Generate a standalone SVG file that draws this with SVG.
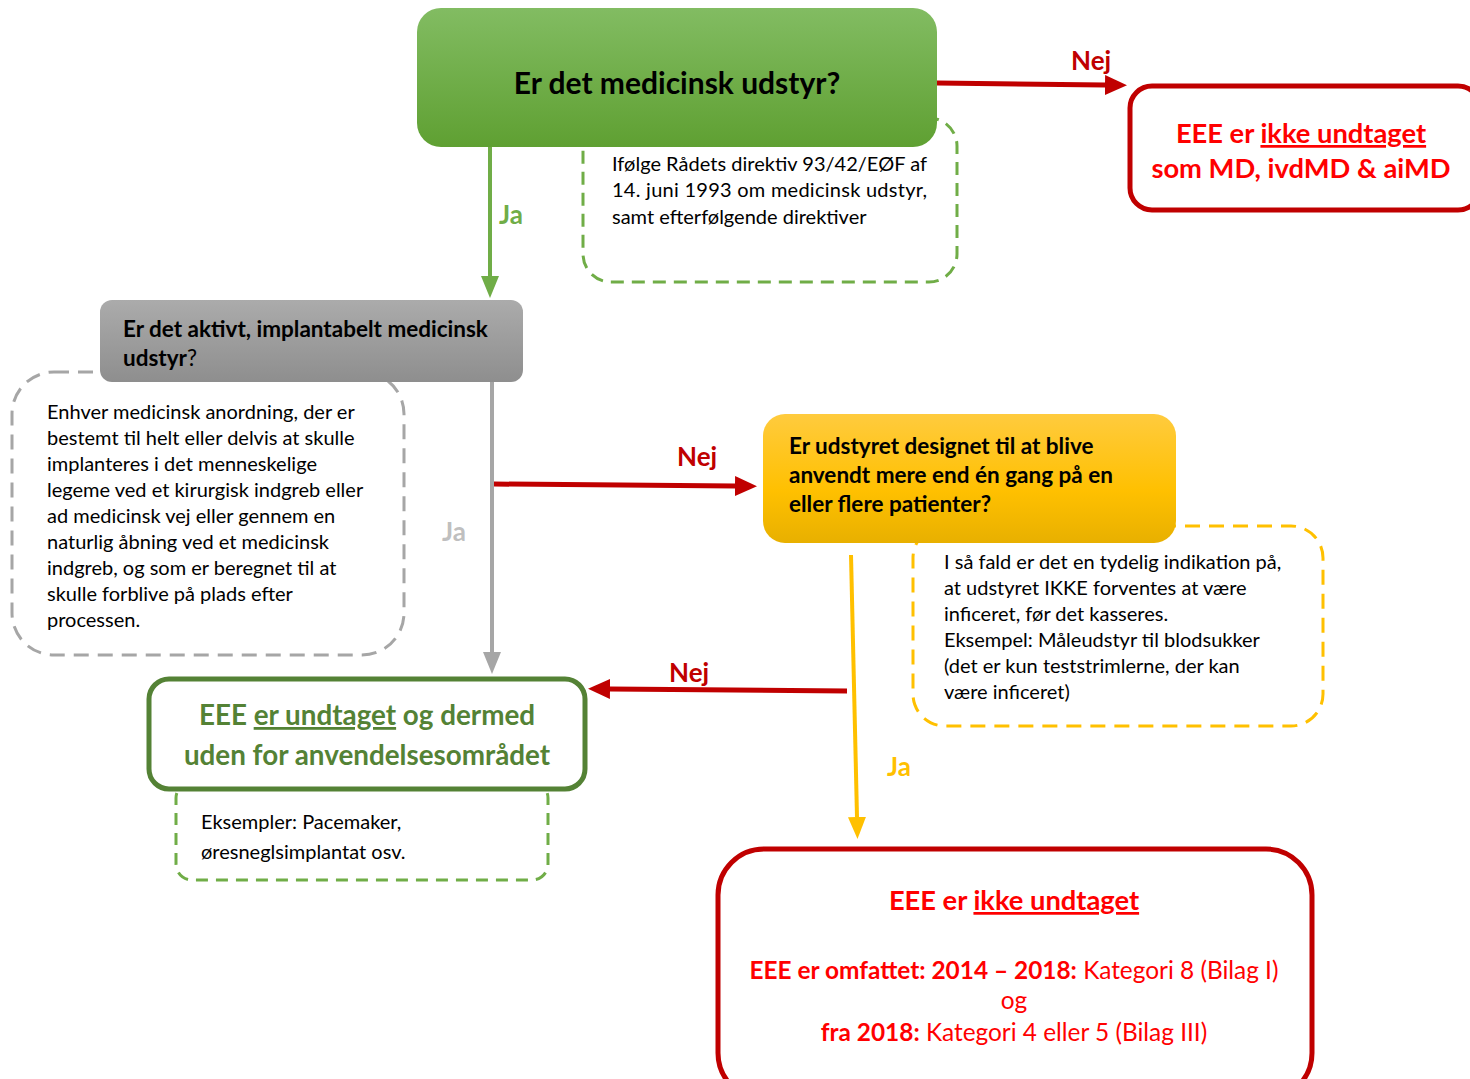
<svg xmlns="http://www.w3.org/2000/svg" width="1470" height="1079" viewBox="0 0 1470 1079">
<style>
text{font-family:Lato,"Open Sans","Liberation Sans",sans-serif;}
.b{font-weight:bold;}
.note{font-size:20px;fill:#000;}
.lbl{font-size:26px;font-weight:bold;}
.red{fill:#c00000;}
</style>
<defs>
<linearGradient id="gGreen" x1="0" y1="0" x2="0" y2="1"><stop offset="0" stop-color="#82bc62"/><stop offset="1" stop-color="#5fa032"/></linearGradient>
<linearGradient id="gGray" x1="0" y1="0" x2="0" y2="1"><stop offset="0" stop-color="#ababab"/><stop offset="1" stop-color="#8e8e8e"/></linearGradient>
<linearGradient id="gYel" x1="0" y1="0" x2="0" y2="1"><stop offset="0" stop-color="#ffcb3e"/><stop offset="0.6" stop-color="#ffc000"/><stop offset="1" stop-color="#e8b000"/></linearGradient>
<marker id="aRed" markerUnits="userSpaceOnUse" markerWidth="22" markerHeight="20" viewBox="0 0 22 20" refX="0" refY="10" orient="auto"><path d="M0,0 L22,10 L0,20 z" fill="#c00000"/></marker>
<marker id="aGreen" markerUnits="userSpaceOnUse" markerWidth="22" markerHeight="18" viewBox="0 0 22 18" refX="0" refY="9" orient="auto"><path d="M0,0 L22,9 L0,18 z" fill="#70ad47"/></marker>
<marker id="aGray" markerUnits="userSpaceOnUse" markerWidth="22" markerHeight="18" viewBox="0 0 22 18" refX="0" refY="9" orient="auto"><path d="M0,0 L22,9 L0,18 z" fill="#a6a6a6"/></marker>
<marker id="aYel" markerUnits="userSpaceOnUse" markerWidth="22" markerHeight="18" viewBox="0 0 22 18" refX="0" refY="9" orient="auto"><path d="M0,0 L22,9 L0,18 z" fill="#ffc000"/></marker>
</defs>

<g id="note-md">
<rect x="583" y="118" width="374" height="164" rx="28" fill="#fff" stroke="#70ad47" stroke-width="3" stroke-dasharray="13 8"/>
<text class="note" x="612" y="171" textLength="315" lengthAdjust="spacing">Ifølge Rådets direktiv 93/42/EØF af</text>
<text class="note" x="612" y="197" textLength="315" lengthAdjust="spacing">14. juni 1993 om medicinsk udstyr,</text>
<text class="note" x="612" y="224">samt efterfølgende direktiver</text>
</g>

<g id="q-md">
<rect x="417" y="8" width="520" height="139" rx="24" fill="url(#gGreen)"/>
<text x="677" y="94" text-anchor="middle" class="b" font-size="30">Er det medicinsk udstyr?</text>
</g>

<g id="r-top">
<rect x="1130" y="86" width="350" height="124" rx="22" fill="#fff" stroke="#c00000" stroke-width="5"/>
<text x="1301" y="143" text-anchor="middle" class="b" font-size="27.3" fill="#ff0000">EEE er <tspan text-decoration="underline">ikke undtaget</tspan></text>
<text x="1301" y="178" text-anchor="middle" class="b" font-size="27.3" fill="#ff0000">som MD, ivdMD &amp; aiMD</text>
</g>

<g id="note-aimd">
<rect x="12" y="372" width="392" height="283" rx="42" fill="#fff" stroke="#a6a6a6" stroke-width="3" stroke-dasharray="15 9"/>
<g class="note">
<text x="47" y="419">Enhver medicinsk anordning, der er</text>
<text x="47" y="445">bestemt til helt eller delvis at skulle</text>
<text x="47" y="471">implanteres i det menneskelige</text>
<text x="47" y="497">legeme ved et kirurgisk indgreb eller</text>
<text x="47" y="523">ad medicinsk vej eller gennem en</text>
<text x="47" y="549">naturlig åbning ved et medicinsk</text>
<text x="47" y="575">indgreb, og som er beregnet til at</text>
<text x="47" y="601">skulle forblive på plads efter</text>
<text x="47" y="627">processen.</text>
</g>
</g>

<g id="q-aimd">
<rect x="100" y="300" width="423" height="82" rx="12" fill="url(#gGray)"/>
<text x="123" y="337" class="b" font-size="22.5">Er det aktivt, implantabelt medicinsk</text>
<text x="123" y="366" font-size="22.5"><tspan class="b">udstyr</tspan>?</text>
</g>

<g id="note-multi">
<rect x="913" y="526" width="410" height="200" rx="32" fill="#fff" stroke="#ffc000" stroke-width="3" stroke-dasharray="15 9"/>
<g class="note">
<text x="944" y="569">I så fald er det en tydelig indikation på,</text>
<text x="944" y="595">at udstyret IKKE forventes at være</text>
<text x="944" y="621">inficeret, før det kasseres.</text>
<text x="944" y="647">Eksempel: Måleudstyr til blodsukker</text>
<text x="944" y="673">(det er kun teststrimlerne, der kan</text>
<text x="944" y="699">være inficeret)</text>
</g>
</g>

<g id="q-multi">
<rect x="763" y="414" width="413" height="129" rx="22" fill="url(#gYel)"/>
<g class="b" font-size="22.5">
<text x="789" y="454">Er udstyret designet til at blive</text>
<text x="789" y="483">anvendt mere end én gang på en</text>
<text x="789" y="512">eller flere patienter?</text>
</g>
</g>

<g id="note-ex">
<rect x="176" y="782" width="372" height="98" rx="16" fill="#fff" stroke="#70ad47" stroke-width="3" stroke-dasharray="12 8"/>
<text class="note" x="201" y="829">Eksempler: Pacemaker,</text>
<text class="note" x="201" y="859">øresneglsimplantat osv.</text>
</g>

<g id="r-excl">
<rect x="149" y="679" width="436" height="110" rx="20" fill="#fff" stroke="#548235" stroke-width="5"/>
<text x="367" y="725" text-anchor="middle" class="b" font-size="27.8" fill="#548235">EEE <tspan text-decoration="underline">er undtaget</tspan> og dermed</text>
<text x="367" y="765" text-anchor="middle" class="b" font-size="27.8" fill="#548235">uden for anvendelsesområdet</text>
</g>

<g id="r-incl">
<rect x="718" y="849" width="594" height="250" rx="46" fill="#fff" stroke="#c00000" stroke-width="5"/>
<text x="1014" y="910" text-anchor="middle" class="b" font-size="27.3" fill="#ff0000">EEE er <tspan text-decoration="underline">ikke undtaget</tspan></text>
<text x="1014" y="979" text-anchor="middle" font-size="24.4" fill="#ff0000"><tspan class="b">EEE er omfattet: 2014 – 2018:</tspan> Kategori 8 (Bilag I)</text>
<text x="1014" y="1009" text-anchor="middle" font-size="24.4" fill="#ff0000">og</text>
<text x="1014" y="1041" text-anchor="middle" font-size="24.4" fill="#ff0000"><tspan class="b">fra 2018:</tspan> Kategori 4 eller 5 (Bilag III)</text>
</g>

<g id="connectors">
<line x1="490" y1="147" x2="490" y2="276" stroke="#70ad47" stroke-width="4" marker-end="url(#aGreen)"/>
<text x="499" y="224" class="lbl" fill="#70ad47">Ja</text>
<line x1="937" y1="83" x2="1105" y2="85" stroke="#c00000" stroke-width="5" marker-end="url(#aRed)"/>
<text x="1071" y="70" class="lbl red">Nej</text>
<line x1="492" y1="382" x2="492" y2="652" stroke="#a6a6a6" stroke-width="4" marker-end="url(#aGray)"/>
<text x="442" y="541" class="lbl" fill="#bfbfbf">Ja</text>
<line x1="494" y1="484" x2="735" y2="486" stroke="#c00000" stroke-width="5" marker-end="url(#aRed)"/>
<text x="677" y="466" class="lbl red">Nej</text>
<line x1="847" y1="691" x2="610" y2="689" stroke="#c00000" stroke-width="5" marker-end="url(#aRed)"/>
<text x="669" y="682" class="lbl red">Nej</text>
<line x1="851" y1="555" x2="857" y2="817" stroke="#ffc000" stroke-width="4" marker-end="url(#aYel)"/>
<text x="887" y="776" class="lbl" fill="#ffc000">Ja</text>
</g>
</svg>
